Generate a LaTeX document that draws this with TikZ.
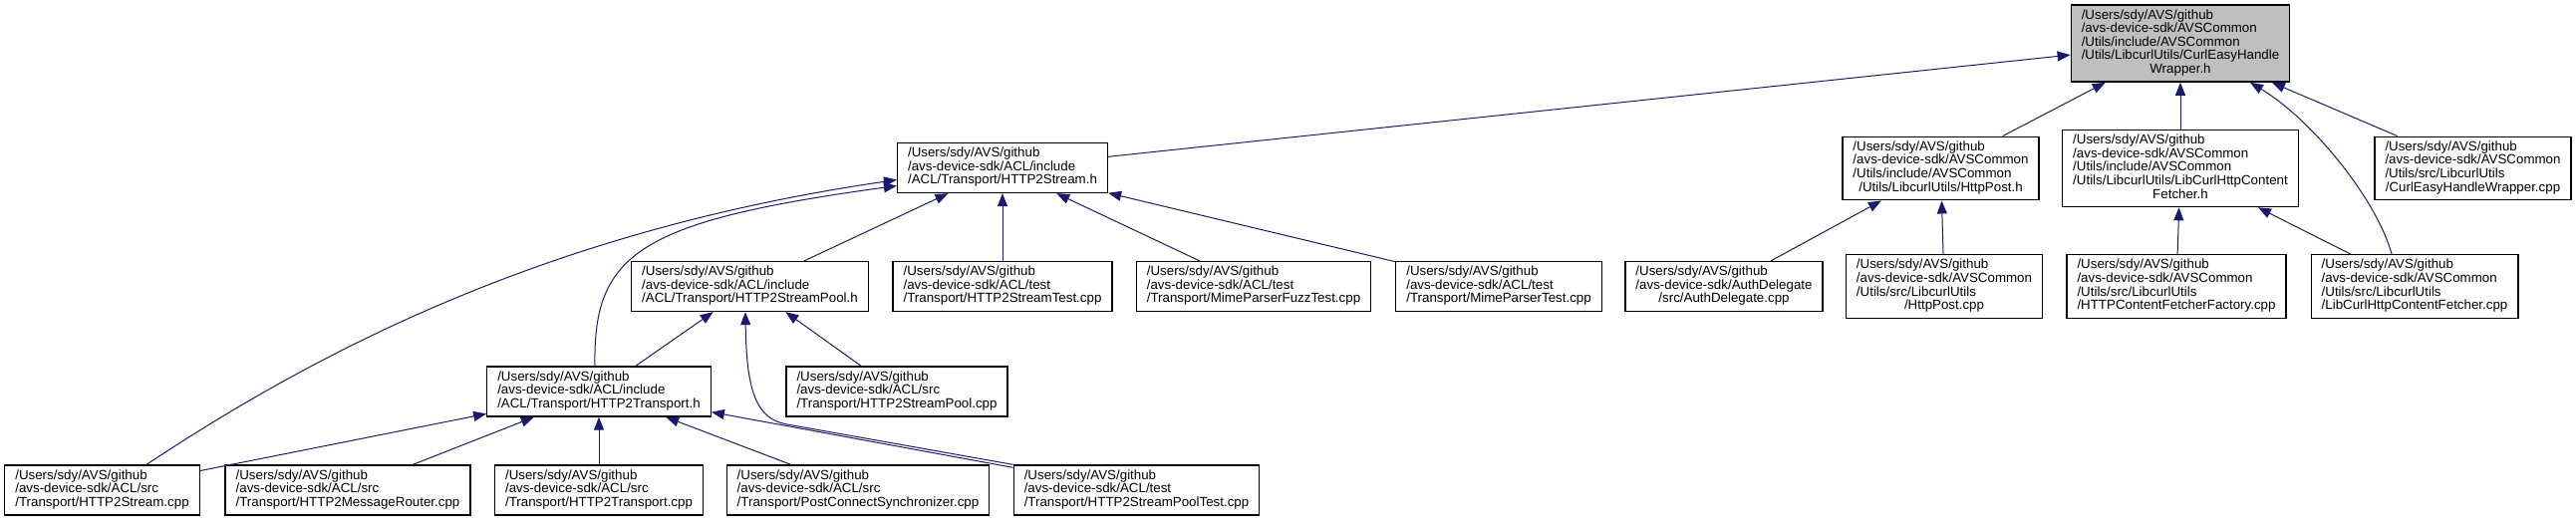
\documentclass[tikz,border=0pt]{standalone}
\usepackage{fontspec}
\setmainfont{Liberation Sans}
\usetikzlibrary{arrows.meta,calc}
\definecolor{edgeblue}{HTML}{191970}
\definecolor{rootgrey}{HTML}{BFBFBF}
\newcommand{\fpath}[1]{\begin{tabular}{@{}l@{}}#1\end{tabular}}
\newcommand{\lastln}[1]{\multicolumn{1}{@{}c@{}}{#1}}

\begin{document}
\begin{tikzpicture}[x=1pt, y=-1pt,
    file/.style={draw=black, line width=1.3pt, fill=white, inner xsep=10.5pt, inner ysep=4.5pt,
                 font=\fontsize{13.33}{13.33}\selectfont},
    rootfile/.style={file, fill=rootgrey},
    dep/.style={draw=edgeblue, line width=1pt, -{Triangle[length=13pt, width=10pt]}},
]
\useasboundingbox (0,0) rectangle (2585,529);

\node[rootfile] (root) at (2188,43.5) {\fpath{/Users/sdy/AVS/github\\/avs-device-sdk/AVSCommon\\/Utils/include/AVSCommon\\/Utils/LibcurlUtils/CurlEasyHandle\\\lastln{Wrapper.h}}};

\node[file] (stream_h) at (1006,168.5) {\fpath{/Users/sdy/AVS/github\\/avs-device-sdk/ACL/include\\\lastln{/ACL/Transport/HTTP2Stream.h}}};
\node[file] (httppost_h) at (1947.5,169) {\fpath{/Users/sdy/AVS/github\\/avs-device-sdk/AVSCommon\\/Utils/include/AVSCommon\\\lastln{/Utils/LibcurlUtils/HttpPost.h}}};
\node[file] (fetcher_h) at (2188,169) {\fpath{/Users/sdy/AVS/github\\/avs-device-sdk/AVSCommon\\/Utils/include/AVSCommon\\/Utils/LibcurlUtils/LibCurlHttpContent\\\lastln{Fetcher.h}}};
\node[file] (wrapper_cpp) at (2481.5,169) {\fpath{/Users/sdy/AVS/github\\/avs-device-sdk/AVSCommon\\/Utils/src/LibcurlUtils\\\lastln{/CurlEasyHandleWrapper.cpp}}};

\node[file] (pool_h) at (752.5,287.5) {\fpath{/Users/sdy/AVS/github\\/avs-device-sdk/ACL/include\\\lastln{/ACL/Transport/HTTP2StreamPool.h}}};
\node[file] (streamtest) at (1006,287.5) {\fpath{/Users/sdy/AVS/github\\/avs-device-sdk/ACL/test\\\lastln{/Transport/HTTP2StreamTest.cpp}}};
\node[file] (fuzztest) at (1258,287.5) {\fpath{/Users/sdy/AVS/github\\/avs-device-sdk/ACL/test\\\lastln{/Transport/MimeParserFuzzTest.cpp}}};
\node[file] (parsertest) at (1504,287.5) {\fpath{/Users/sdy/AVS/github\\/avs-device-sdk/ACL/test\\\lastln{/Transport/MimeParserTest.cpp}}};
\node[file] (auth) at (1730,287.5) {\fpath{/Users/sdy/AVS/github\\/avs-device-sdk/AuthDelegate\\\lastln{/src/AuthDelegate.cpp}}};
\node[file] (httppost_cpp) at (1951,287.5) {\fpath{/Users/sdy/AVS/github\\/avs-device-sdk/AVSCommon\\/Utils/src/LibcurlUtils\\\lastln{/HttpPost.cpp}}};
\node[file] (factory) at (2184,287.5) {\fpath{/Users/sdy/AVS/github\\/avs-device-sdk/AVSCommon\\/Utils/src/LibcurlUtils\\\lastln{/HTTPContentFetcherFactory.cpp}}};
\node[file] (fetcher_cpp) at (2423,287.5) {\fpath{/Users/sdy/AVS/github\\/avs-device-sdk/AVSCommon\\/Utils/src/LibcurlUtils\\\lastln{/LibCurlHttpContentFetcher.cpp}}};

\node[file] (transport_h) at (601,393) {\fpath{/Users/sdy/AVS/github\\/avs-device-sdk/ACL/include\\\lastln{/ACL/Transport/HTTP2Transport.h}}};
\node[file] (pool_cpp) at (900,393) {\fpath{/Users/sdy/AVS/github\\/avs-device-sdk/ACL/src\\\lastln{/Transport/HTTP2StreamPool.cpp}}};

\node[file] (stream_cpp) at (102.5,492) {\fpath{/Users/sdy/AVS/github\\/avs-device-sdk/ACL/src\\\lastln{/Transport/HTTP2Stream.cpp}}};
\node[file] (router) at (349,492) {\fpath{/Users/sdy/AVS/github\\/avs-device-sdk/ACL/src\\\lastln{/Transport/HTTP2MessageRouter.cpp}}};
\node[file] (transport_cpp) at (601,492) {\fpath{/Users/sdy/AVS/github\\/avs-device-sdk/ACL/src\\\lastln{/Transport/HTTP2Transport.cpp}}};
\node[file] (postconnect) at (861,492) {\fpath{/Users/sdy/AVS/github\\/avs-device-sdk/ACL/src\\\lastln{/Transport/PostConnectSynchronizer.cpp}}};
\node[file] (pooltest) at (1140.5,492) {\fpath{/Users/sdy/AVS/github\\/avs-device-sdk/ACL/test\\\lastln{/Transport/HTTP2StreamPoolTest.cpp}}};

\draw[dep] (stream_h) -- (root);
\draw[dep] (httppost_h) -- (root);
\draw[dep] (fetcher_h) -- (root);
\draw[dep] ($(fetcher_cpp.north)+(-23,0)$) .. controls (2385,200) and (2320,120) .. ($(root.south)+(70,0)$);
\draw[dep] (wrapper_cpp) -- (root);

\draw[dep] (pool_h) -- (stream_h);
\draw[dep] (streamtest) -- (stream_h);
\draw[dep] (fuzztest) -- (stream_h);
\draw[dep] (parsertest) -- (stream_h);
\draw[dep] ($(transport_h.north)+(-4,0)$) .. controls (595,255) and (640,222) .. ($(stream_h.west)+(0,18)$);
\draw[dep] ($(stream_cpp.north)+(44.5,0)$) .. controls (330,345) and (560,230) .. ($(stream_h.west)+(0,12)$);

\draw[dep] (pooltest.north west) -- (790,426) .. controls (760,421) and (749,395) .. ($(pool_h.south)+(-4.5,0)$);
\draw[dep] (pool_cpp) -- (pool_h);
\draw[dep] (transport_h) -- (pool_h);

\draw[dep] (stream_cpp) -- (transport_h);
\draw[dep] (router) -- (transport_h);
\draw[dep] (transport_cpp) -- (transport_h);
\draw[dep] (postconnect) -- (transport_h);
\draw[dep] (pooltest) -- (transport_h);

\draw[dep] (auth) -- (httppost_h);
\draw[dep] (httppost_cpp) -- (httppost_h);
\draw[dep] (factory) -- (fetcher_h);
\draw[dep] (fetcher_cpp) -- (fetcher_h);
\end{tikzpicture}
\end{document}
